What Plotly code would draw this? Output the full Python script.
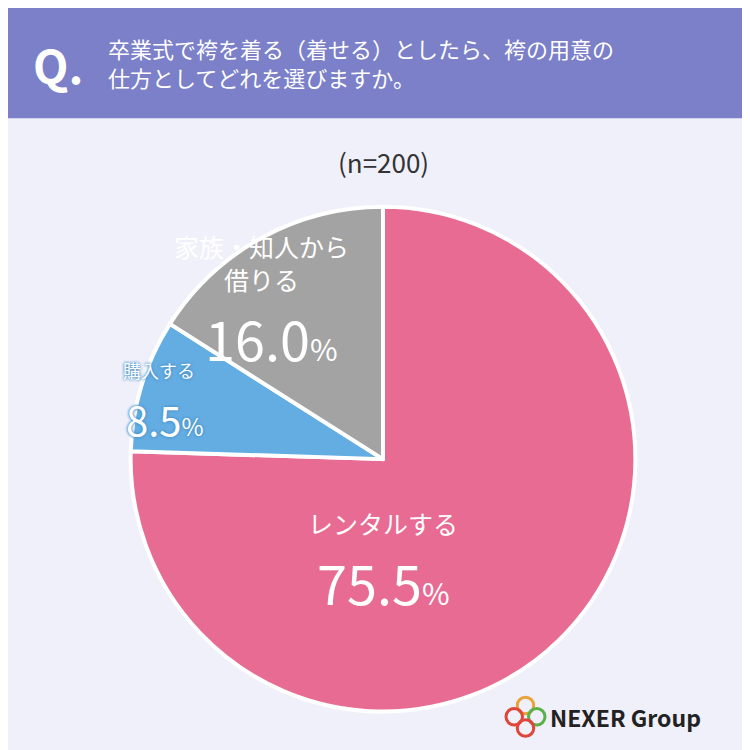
import plotly.graph_objects as go

labels = ["レンタルする", "購入する", "家族・知人から借りる"]
values = [75.5, 8.5, 16.0]
colors = ["#e86b93", "#63ade2", "#a3a3a3"]

fig = go.Figure(go.Pie(
    labels=labels, values=values, sort=False, direction="clockwise", rotation=0,
    marker=dict(colors=colors, line=dict(color="white", width=4)),
    textinfo="none", hoverinfo="skip", showlegend=False,
    domain=dict(x=[0.16, 0.84], y=[0.062, 0.735]),
))

F = "Noto Sans CJK JP"
def ann(x, y, txt, size, xa="center", shadow="none"):
    fig.add_annotation(x=x, y=y, xref="paper", yref="paper", text=txt, showarrow=False,
                       font=dict(family=F, size=size, color="white", shadow=shadow),
                       xanchor=xa, yanchor="middle")

shapes = [dict(type="rect", xref="paper", yref="paper", x0=0, x1=1, y0=0.853, y1=1.02,
               fillcolor="#7b80c8", line=dict(width=0), layer="below")]
fig.update_layout(shapes=shapes)
fig.add_annotation(x=0.03, y=0.925, xref="paper", yref="paper", text="<b>Q.</b>", showarrow=False,
                   font=dict(family=F, size=46, color="white"), xanchor="left", yanchor="middle")
fig.add_annotation(x=0.13, y=0.927, xref="paper", yref="paper",
                   text="卒業式で袴を着る（着せる）としたら、袴の用意の<br>仕方としてどれを選びますか。",
                   showarrow=False, align="left", font=dict(family=F, size=22, color="white"),
                   xanchor="left", yanchor="middle")
fig.add_annotation(x=0.5, y=0.795, xref="paper", yref="paper", text="(n=200)", showarrow=False,
                   font=dict(family=F, size=26, color="#333"), xanchor="center", yanchor="middle")

ann(0.5, 0.313, "レンタルする", 25)
ann(0.5, 0.235, "75.5<span style='font-size:30px'>%</span>", 54)
sh = "0px 0px 3px #4a90c8, 0px 0px 3px #4a90c8"
ann(0.15, 0.517, "購入する", 18, "left", sh)
ann(0.155, 0.452, "8.5<span style='font-size:24px'>%</span>", 40, "left", sh)
ann(0.218, 0.66, "家族・知人から<br>借りる", 25, "left")
ann(0.26, 0.56, "16.0<span style='font-size:30px'>%</span>", 54, "left")

fig.add_annotation(x=0.72, y=0.055, xref="paper", yref="paper", text="<b>NEXER Group</b>", showarrow=False,
                   font=dict(family=F, size=23, color="#222"), xanchor="left", yanchor="middle")
for cx, cy, c in [(0.69, 0.07, "#e8a33a"), (0.705, 0.055, "#5bb04a"), (0.69, 0.04, "#e0453a"), (0.675, 0.055, "#e0453a")]:
    fig.add_shape(type="circle", xref="paper", yref="paper", x0=cx-0.011, x1=cx+0.011,
                  y0=cy-0.011, y1=cy+0.011, line=dict(color=c, width=3))

fig.update_layout(width=750, height=750, margin=dict(l=0, r=0, t=0, b=0),
                  paper_bgcolor="#f0f0fa", plot_bgcolor="#f0f0fa")
fig.write_html("out.html")
